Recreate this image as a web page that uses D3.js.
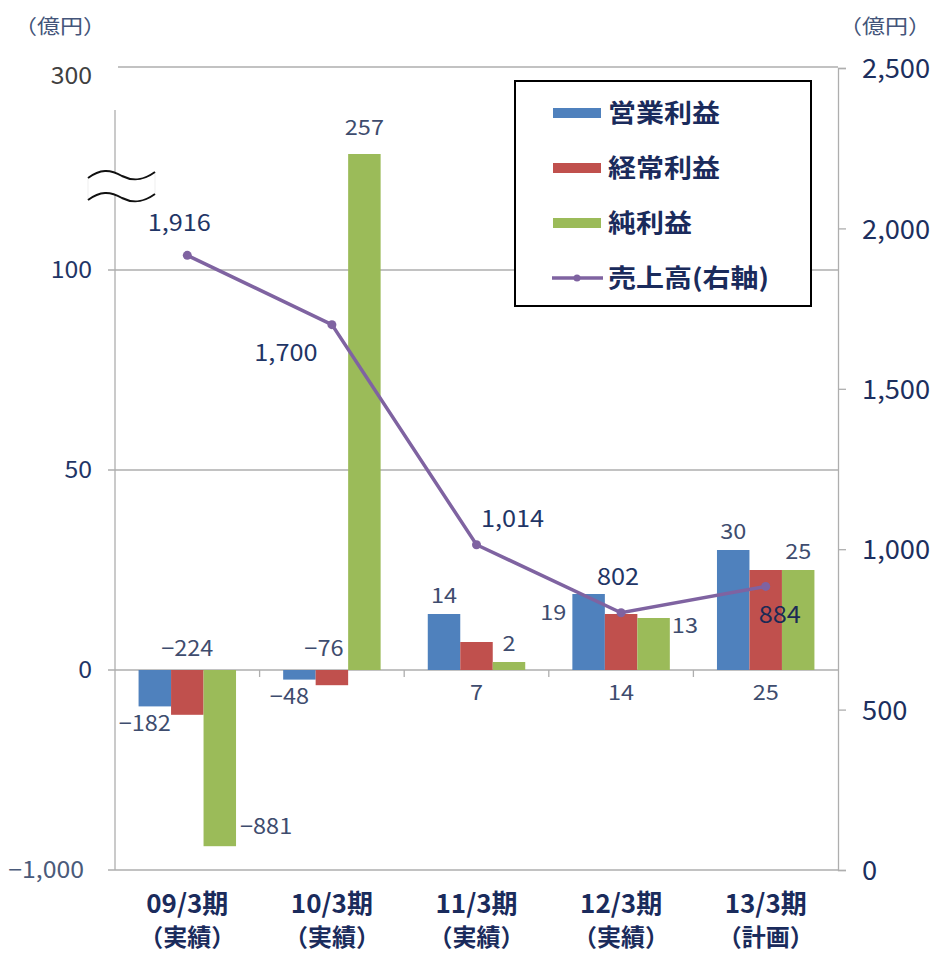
<!DOCTYPE html>
<html>
<head>
<meta charset="utf-8">
<script src="https://cdn.jsdelivr.net/npm/d3@7"></script>
<style>
  body { margin: 0; background: #fff; }
  text { font-family: "Noto Sans CJK JP", "Noto Sans", sans-serif; }
</style>
</head>
<body>
<div id="chart"></div>
<script>
// Profit bars (left, broken axis) and sales line (right axis)
const categories = ["09/3期", "10/3期", "11/3期", "12/3期", "13/3期"];
const subLabels = ["（実績）", "（実績）", "（実績）", "（実績）", "（計画）"];
const seriesNames = ["営業利益", "経常利益", "純利益"];
const operating = [-182, -48, 14, 19, 30];
const ordinary = [-224, -76, 7, 14, 25];
const netIncome = [-881, 257, 2, 13, 25];
const sales = [1916, 1700, 1014, 802, 884];
const lineName = "売上高(右軸)";
const leftTicks = [-1000, 0, 50, 100, 300];
const rightTicks = [0, 500, 1000, 1500, 2000, 2500];

// where each label sits (hand-placed in the original)
const operatingPos = ["belowLeft", "belowLeft", "above", "left", "above"];
const ordinaryPos = ["axisAbove", "axisAboveLeft", "axisBelow", "axisBelow", "axisBelow"];
const netPos = ["right", "above", "above", "rightLow", "above"];
const salesPos = ["above", "leftBelow", "aboveRight", "above", "belowRight"];

const width = 934, height = 953;
const colors = ["#4F81BD", "#C0504D", "#9BBB59"];
const lineColor = "#7F63A1";
const navy = "#1F3566";
const labelColor = "#3E4C6E";
const gridColor = "#AEAEAE";

const svg = d3.select("#chart").append("svg")
  .attr("width", width).attr("height", height);

// text helper: the original's type is slightly wide, so stretch horizontally
function label(parent, x, y, str, o) {
  return parent.append("text")
    .attr("transform", `translate(${x},${y}) scale(${o.sx || 1},1)`)
    .attr("dy", o.dy == null ? "0.35em" : o.dy)
    .attr("text-anchor", o.anchor || "middle")
    .attr("font-size", o.size || 20)
    .attr("font-weight", o.weight || "normal")
    .attr("fill", o.fill || labelColor)
    .text(str);
}
const fmtNum = v => d3.format(",")(v).replace("-", "−");

const plotLeft = 115, plotRight = 838, plotTop = 67, plotBottom = 870;

const x0 = d3.scaleBand().domain(categories).range([plotLeft, plotRight]);
const bw = x0.bandwidth();
const x1 = d3.scaleBand().domain(seriesNames).range([bw * 0.163, bw * 0.837]);

// broken axis: piecewise scale
const y = d3.scaleLinear()
  .domain([-1000, 0, 100, 257, 300])
  .range([plotBottom, 670, 270, 154, plotTop]);
const yR = d3.scaleLinear().domain([0, 2500]).range([plotBottom, plotTop + 1]);

// gridlines
svg.append("g").selectAll("line").data(leftTicks).enter().append("line")
  .attr("x1", d => d === 300 ? plotLeft + 3 : plotLeft - 7)
  .attr("x2", plotRight)
  .attr("y1", d => y(d)).attr("y2", d => y(d))
  .attr("stroke", gridColor).attr("stroke-width", 1.3);

// left axis line (broken at top)
svg.append("line").attr("x1", plotLeft).attr("x2", plotLeft)
  .attr("y1", 110).attr("y2", plotBottom)
  .attr("stroke", gridColor).attr("stroke-width", 1.3);

// right axis
const rAxis = svg.append("g").attr("transform", `translate(${plotRight},0)`)
  .call(d3.axisRight(yR).tickValues(rightTicks).tickSize(8).tickFormat(""));
rAxis.select(".domain").attr("stroke", gridColor).attr("stroke-width", 1.3);
rAxis.selectAll(".tick line").attr("stroke", gridColor).attr("stroke-width", 1.3);
rightTicks.forEach(t => {
  label(svg, 862, yR(t) + 1, fmtNum(t),
    { anchor: "start", size: 26, sx: 1.05, fill: "#1C2F5E" });
});

// left tick labels
leftTicks.forEach(t => {
  label(svg, t === -1000 ? 84 : 92, y(t) + (t === 300 ? 9 : 0), fmtNum(t),
    { anchor: "end", size: 23, sx: 1.08,
      fill: t === 300 ? "#404040" : (t === -1000 ? "#4A5A7A" : navy) });
});

// category axis ticks at zero line
svg.append("g").selectAll("line").data(categories.slice(1)).enter().append("line")
  .attr("x1", d => x0(d)).attr("x2", d => x0(d))
  .attr("y1", y(0)).attr("y2", y(0) + 7)
  .attr("stroke", gridColor).attr("stroke-width", 1.3);

// bars
const seriesData = [operating, ordinary, netIncome];
const positions = [operatingPos, ordinaryPos, netPos];
const barG = svg.append("g");
seriesData.forEach((vals, si) => {
  barG.selectAll(null).data(vals).enter().append("rect")
    .attr("x", (d, i) => x0(categories[i]) + x1(seriesNames[si]))
    .attr("width", x1.bandwidth())
    .attr("y", d => Math.min(y(d), y(0)))
    .attr("height", d => Math.abs(y(d) - y(0)))
    .attr("fill", colors[si]);
});

// bar labels
seriesData.forEach((vals, si) => {
  vals.forEach((v, i) => {
    const bx = x0(categories[i]) + x1(seriesNames[si]);
    const bwid = x1.bandwidth();
    const cx = bx + bwid / 2;
    const p = positions[si][i];
    let tx = cx, ty = y(v), anchor = "middle";
    if (p === "above") ty = y(v) - (v > 100 ? 26 : 18);
    else if (p === "belowLeft") { tx = cx - 10; ty = y(v) + 17; }
    else if (p === "left") { tx = bx - 6; anchor = "end"; ty = y(v) + 19; }
    else if (p === "right") { tx = bx + bwid + 4; anchor = "start"; ty = y(v) - 20; }
    else if (p === "rightLow") { tx = bx + bwid + 2; anchor = "start"; ty = y(v) + 8; }
    else if (p === "axisAbove") ty = y(0) - 21;
    else if (p === "axisAboveLeft") { tx = cx - 8; ty = y(0) - 21; }
    else if (p === "axisBelow") ty = y(0) + 23;
    label(svg, tx, ty, fmtNum(v), { anchor, size: 21, sx: 1.12 });
  });
});

// sales line
const line = d3.line()
  .x((d, i) => x0(categories[i]) + bw / 2)
  .y(d => yR(d));
svg.append("path").datum(sales)
  .attr("d", line).attr("fill", "none")
  .attr("stroke", lineColor).attr("stroke-width", 3.5);
svg.append("g").selectAll("circle").data(sales).enter().append("circle")
  .attr("cx", (d, i) => x0(categories[i]) + bw / 2)
  .attr("cy", d => yR(d)).attr("r", 4.5).attr("fill", lineColor);

sales.forEach((v, i) => {
  const cx = x0(categories[i]) + bw / 2, cy = yR(v);
  const p = salesPos[i];
  let tx = cx, ty = cy;
  if (p === "above") { tx = cx - 8; ty = cy - 32; }
  else if (p === "leftBelow") { tx = cx - 46; ty = cy + 28; }
  else if (p === "aboveRight") { tx = cx + 36; ty = cy - 26; }
  else if (p === "belowRight") { tx = cx + 14; ty = cy + 29; }
  if (i === 3) { tx = cx - 3; ty = cy - 36; }
  label(svg, tx, ty, fmtNum(v),
    { size: 23, sx: 1.1, fill: i === 4 ? "#1B2A55" : navy });
});

// axis break mark
const brk = svg.append("g").attr("transform", "translate(88,172)");
brk.append("path")
  .attr("d", "M0,6 C12,-3 22,-3 34,4 C46,10 56,8 67,0 L67,22 C56,30 46,32 34,26 C22,19 12,19 0,28 Z")
  .attr("fill", "#fff").attr("stroke", "#ddd").attr("stroke-width", 0.5);
brk.append("path")
  .attr("d", "M0,6 C12,-3 22,-3 34,4 C46,10 56,8 67,0")
  .attr("fill", "none").attr("stroke", "#111").attr("stroke-width", 2);
brk.append("path")
  .attr("d", "M0,28 C12,19 22,19 34,26 C46,32 56,30 67,22")
  .attr("fill", "none").attr("stroke", "#111").attr("stroke-width", 2);

// category labels
categories.forEach((c, i) => {
  const cx = x0(c) + bw / 2;
  label(svg, cx, 913, c, { size: 26, weight: "bold", fill: "#1A2B5C", dy: 0 });
  label(svg, cx, 946, subLabels[i], { size: 24, weight: "bold", fill: "#1A2B5C", dy: 0 });
});

// unit labels
label(svg, 14, 27, "（億円）", { anchor: "start", size: 20, sx: 1.15, fill: "#44557A" });
label(svg, 839, 27, "（億円）", { anchor: "start", size: 20, sx: 1.15, fill: "#44557A" });

// legend
const lg = svg.append("g").attr("transform", "translate(515,81)");
lg.append("rect").attr("width", 296).attr("height", 225)
  .attr("fill", "#fff").attr("stroke", "#000").attr("stroke-width", 2);
seriesNames.concat([lineName]).forEach((name, i) => {
  const cy = 32 + i * 55;
  if (i < 3) {
    lg.append("rect").attr("x", 38).attr("y", cy - 5).attr("width", 48).attr("height", 10)
      .attr("fill", colors[i]);
  } else {
    lg.append("line").attr("x1", 37).attr("x2", 88).attr("y1", cy).attr("y2", cy)
      .attr("stroke", lineColor).attr("stroke-width", 3.5);
    lg.append("circle").attr("cx", 62).attr("cy", cy).attr("r", 3.5).attr("fill", lineColor);
  }
  label(lg, 93, cy, name, { anchor: "start", size: 25, sx: 1.12, weight: "bold", fill: "#1A2B5C" });
});
</script>
</body>
</html>
